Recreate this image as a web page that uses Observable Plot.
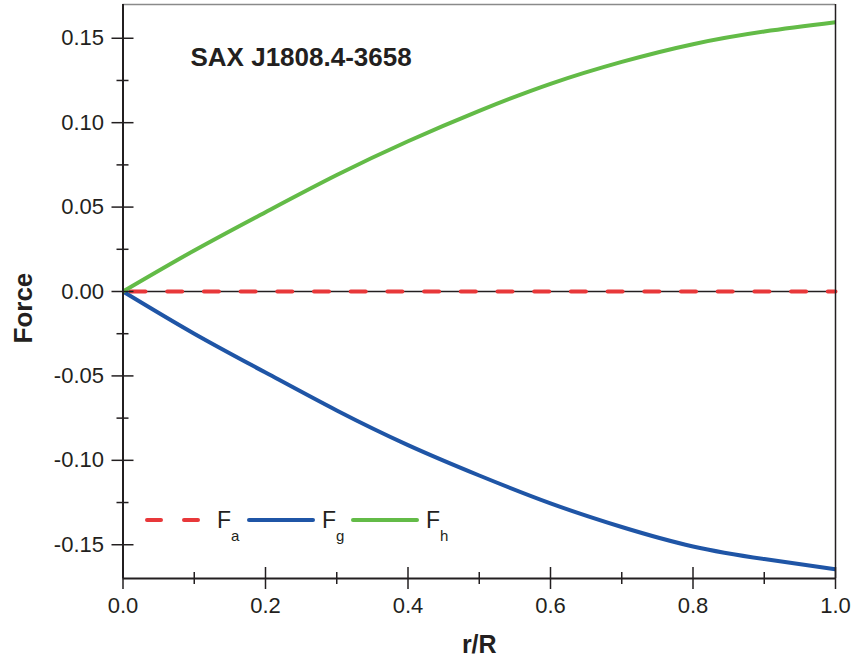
<!DOCTYPE html>
<html>
<head>
<meta charset="utf-8">
<script src="https://cdn.jsdelivr.net/npm/d3@7"></script>
<script src="https://cdn.jsdelivr.net/npm/@observablehq/plot@0.6"></script>
<style>
  body { margin: 0; background: #fff; }
  #chart { position: relative; width: 856px; height: 667px; font-family: "Liberation Sans", Arial, sans-serif; }
  #legend { position: absolute; left: 0; top: 0; pointer-events: none; }
</style>
</head>
<body>
<div id="chart"></div>
<script>
// Radial coordinate r/R and the three force profiles
const radius = [0, 0.1, 0.2, 0.3, 0.4, 0.5, 0.6, 0.7, 0.8, 0.9, 1.0];
const forceA = [0, 0, 0, 0, 0, 0, 0, 0, 0, 0, 0];
const forceG = [0, -0.0250, -0.0480, -0.0705, -0.0910, -0.1090, -0.1255, -0.1395, -0.1510, -0.1585, -0.1645];
const forceH = [0, 0.0243, 0.0470, 0.0690, 0.0890, 0.1070, 0.1230, 0.1360, 0.1465, 0.1540, 0.1595];

const seriesKeys = ["a", "g", "h"];
const seriesValues = [forceA, forceG, forceH];

// Tick positions
const xMajor = [0, 0.2, 0.4, 0.6, 0.8, 1.0];
const xMinor = [0.1, 0.3, 0.5, 0.7, 0.9];
const yMajor = [-0.15, -0.10, -0.05, 0, 0.05, 0.10, 0.15];
const yMinor = [-0.125, -0.075, -0.025, 0.025, 0.075, 0.125];
const xDomain = [0, 1];
const yDomain = [-0.17, 0.17];

const title = "SAX J1808.4-3658";
const xLabel = "r/R";
const yLabel = "Force";

// Styling per series
const ink = "#231f20";
const colors = {a: "#e8383a", g: "#1f55a6", h: "#63bb47"};
const dashes = {a: "15,21.7", g: null, h: null};

const rows = seriesKeys.flatMap((k, j) => radius.map((r, i) => ({r, f: seriesValues[j][i], key: k})));

const font = "'Liberation Sans', Arial, sans-serif";

const chart = Plot.plot({
  width: 856,
  height: 667,
  marginLeft: 122.5,
  marginRight: 21,
  marginTop: 4,
  marginBottom: 89,
  x: {domain: xDomain},
  y: {domain: yDomain},
  style: {fontFamily: font, fontSize: "22px", color: ink, background: "#fff"},
  marks: [
    Plot.ruleY([0], {stroke: ink, strokeWidth: 1.4}),
    ...seriesKeys.map(k => Plot.line(rows.filter(d => d.key === k), {
      x: "r", y: "f", curve: "natural",
      stroke: colors[k], strokeWidth: 4,
      strokeDasharray: dashes[k], strokeDashoffset: dashes[k] ? 29.2 : null,
      strokeLinecap: dashes[k] ? "round" : "butt"
    })),
    // frame
    Plot.ruleY([yDomain[1]], {stroke: "#8a8a8a", strokeWidth: 1.5}),
    Plot.ruleX([xDomain[1]], {stroke: ink, strokeWidth: 1.5}),
    Plot.ruleX([xDomain[0]], {stroke: ink, strokeWidth: 2}),
    Plot.ruleY([yDomain[0]], {stroke: ink, strokeWidth: 2}),
    // axes: ticks cross the axis line
    Plot.axisY(yMajor, {tickSize: 22, dx: 11, tickPadding: 8, strokeWidth: 1.5, stroke: ink,
      tickFormat: d => d.toFixed(2), label: null, fontSize: 22, fill: ink}),
    Plot.axisY(yMinor, {tickSize: 12, dx: 6, strokeWidth: 1.5, stroke: ink, tickFormat: () => "", label: null}),
    Plot.axisX(xMajor, {tickSize: 22, dy: -11, tickPadding: 8, strokeWidth: 1.5, stroke: ink,
      tickFormat: d => d.toFixed(1), label: null, fontSize: 22, fill: ink}),
    Plot.axisX(xMinor, {tickSize: 12, dy: -6, strokeWidth: 1.5, stroke: ink, tickFormat: () => "", label: null}),
    // labels and title
    Plot.text([yLabel], {frameAnchor: "left", rotate: -90, dx: -99, dy: 52, fontSize: 26, fontWeight: "bold", fill: ink}),
    Plot.text([xLabel], {frameAnchor: "bottom", dy: 74, fontSize: 25, fontWeight: "bold", fill: ink}),
    Plot.text([title], {frameAnchor: "top-left", dx: 67.5, dy: 43, textAnchor: "start", fontSize: 26, fontWeight: "bold", fill: ink})
  ]
});

const container = document.getElementById("chart");
container.appendChild(chart);

// Legend inside the plot area, lower left
const legend = d3.select(container).append("svg")
  .attr("id", "legend").attr("width", 856).attr("height", 667);
const legendX = [145, 249, 353];
const legendY = 520;
const swatchW = [55, 64, 64];
seriesKeys.forEach((k, i) => {
  const x0 = legendX[i];
  legend.append("line")
    .attr("x1", x0 + (dashes[k] ? 2 : 0)).attr("x2", x0 + swatchW[i] - (dashes[k] ? 2 : 0))
    .attr("y1", legendY).attr("y2", legendY)
    .attr("stroke", colors[k]).attr("stroke-width", 4)
    .attr("stroke-linecap", "round")
    .attr("stroke-dasharray", dashes[k] ? "14,23" : null);
  const t = legend.append("text")
    .attr("x", x0 + swatchW[i] + (dashes[k] ? 17 : 9)).attr("y", legendY + 8)
    .attr("font-family", font).attr("font-size", 23).attr("fill", ink);
  t.append("tspan").text("F");
  t.append("tspan").attr("dy", 13).attr("font-size", 15).text(k);
});
</script>
</body>
</html>
